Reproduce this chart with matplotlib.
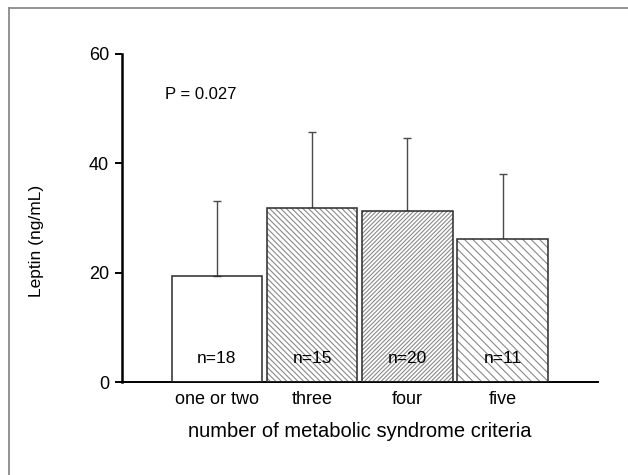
import matplotlib
matplotlib.use("Agg")
import matplotlib.pyplot as plt
from matplotlib.lines import Line2D

plt.rcParams['font.family'] = ['Liberation Sans', 'DejaVu Sans']
plt.rcParams['hatch.linewidth'] = 0.8

# data
groups = ["one or two", "three", "four", "five"]
leptin_mean = [19.4, 31.9, 31.3, 26.2]
leptin_sd = [13.7, 13.9, 13.4, 11.8]
n_labels = ["n=18", "n=15", "n=20", "n=11"]
hatches = [None, "\\" * 6, "/" * 8, "\\" * 4]
p_text = "P = 0.027"

fig = plt.figure(figsize=(6.28, 4.75), dpi=100)
ax = fig.add_axes([0.1938, 0.1952, 0.758, 0.6912])

x = list(range(1, len(groups) + 1))

# hatch fill first, outline on top so hatch and edge can differ in colour
for xi, h, m in zip(x, hatches, leptin_mean):
    if h:
        ax.bar(xi, m, width=0.95, color="white", edgecolor="#8a8a8a",
               linewidth=0, hatch=h, zorder=2)
ax.bar(x, leptin_mean, width=0.95, fill=False, edgecolor="#2a2a2a",
       linewidth=1.1, zorder=3)

ax.errorbar(x, leptin_mean, yerr=[[0] * len(x), leptin_sd], fmt="none",
            ecolor="#4a4a4a", elinewidth=1.0, capsize=3, capthick=1.0, zorder=1)

for xi, lab in zip(x, n_labels):
    ax.text(xi, 4.4, lab, ha="center", va="center", fontsize=12.5, zorder=4)

ax.text(0.455, 52.6, p_text, ha="left", va="center", fontsize=12)

ax.set_xlim(0, 5)
ax.set_ylim(0, 60)
ax.set_yticks([0, 20, 40, 60])
ax.set_xticks(x)
ax.set_xticklabels(groups, fontsize=13)
ax.tick_params(axis="x", length=0, pad=6)
ax.tick_params(axis="y", length=5, width=1.4, pad=4, labelsize=13)

for s in ("top", "right"):
    ax.spines[s].set_visible(False)
ax.spines["left"].set_linewidth(1.8)
ax.spines["bottom"].set_linewidth(1.4)

ax.set_xlabel("number of metabolic syndrome criteria", fontsize=14.5, labelpad=10)
ax.text(-0.178, 0.43, "Leptin (ng/mL)", rotation=90, ha="center", va="center",
        fontsize=12.5, transform=ax.transAxes)

# partial frame around the figure (only left and top visible in the source)
fig.add_artist(Line2D([9 / 628, 9 / 628], [0, 1 - 8 / 475], color="#8a8a8a",
                      linewidth=1.3, transform=fig.transFigure))
fig.add_artist(Line2D([9 / 628, 1], [1 - 8 / 475, 1 - 8 / 475], color="#8a8a8a",
                      linewidth=1.3, transform=fig.transFigure))

fig.savefig("out.png", dpi=100)
